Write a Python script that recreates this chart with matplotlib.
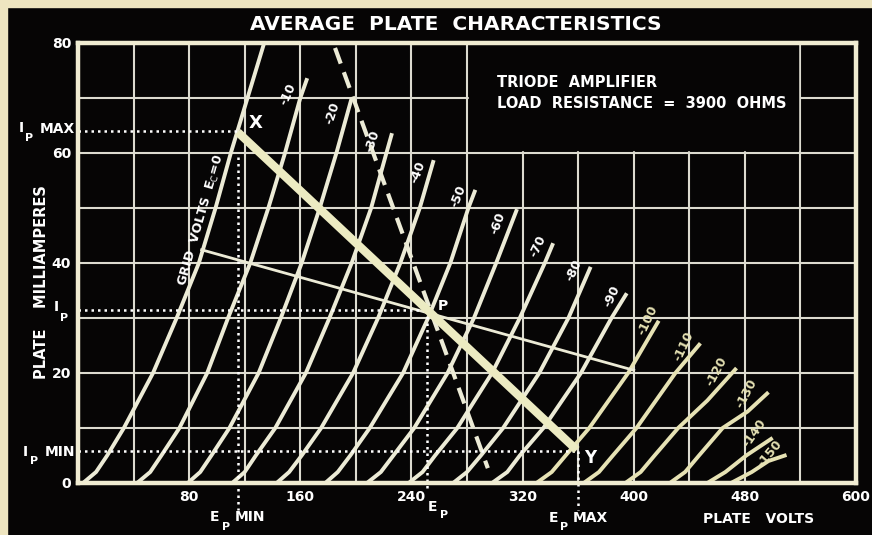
'''
    Curvas caracteristicas de placa de un triodo (lectura del grafico original)
'''
import matplotlib
matplotlib.use('Agg')
from matplotlib import pyplot as plt
from matplotlib.patches import Rectangle

# voltios de rejilla de cada curva
grid_volts = [0, -10, -20, -30, -40, -50, -60, -70, -80, -90, -100, -110, -120, -130, -140, -150]

# voltios de placa de cada curva
curve_volts = [
    [3.6, 13, 21, 33, 54, 71, 87, 99, 110, 122, 134],
    [42.5, 52, 60, 73, 93, 108, 124, 137, 149, 160, 165],
    [79, 88, 96, 109, 130, 146, 161, 174, 186, 197],
    [111, 120, 128, 142, 164, 181, 197, 211, 222, 226],
    [143, 152, 161, 175, 198, 216, 232, 246, 256],
    [178, 187, 196, 210, 234, 252, 268, 281, 286],
    [208, 218, 227, 242, 266, 285, 301, 316],
    [238, 248, 257, 273, 298, 318, 336, 342],
    [270, 280, 290, 306, 332, 353, 369],
    [298, 309, 318, 335, 362, 384, 395],
    [330, 341, 351, 368, 396, 418],
    [364, 375, 385, 402, 430, 448],
    [394, 405, 415, 432, 453, 474],
    [426, 437, 447, 464, 482, 497],
    [453, 466, 481, 500],
    [470, 485, 497, 510],
]
# miliamperios de placa de cada curva
curve_ma = [
    [0, 2, 5, 10, 20, 30, 40, 50, 60, 70, 80],
    [0, 2, 5, 10, 20, 30, 40, 50, 60, 70, 73.6],
    [0, 2, 5, 10, 20, 30, 40, 50, 60, 70],
    [0, 2, 5, 10, 20, 30, 40, 50, 60, 63.6],
    [0, 2, 5, 10, 20, 30, 40, 50, 58.7],
    [0, 2, 5, 10, 20, 30, 40, 50, 53.3],
    [0, 2, 5, 10, 20, 30, 40, 49.8],
    [0, 2, 5, 10, 20, 30, 40, 43.6],
    [0, 2, 5, 10, 20, 30, 39.3],
    [0, 2, 5, 10, 20, 30, 34.5],
    [0, 2, 5, 10, 20, 29.5],
    [0, 2, 5, 10, 20, 25.4],
    [0, 2, 5, 10, 15, 20.9],
    [0, 2, 5, 10, 13, 16.5],
    [0, 2, 5, 8.2],
    [0, 2, 4, 5.1],
]

# etiquetas de las curvas (sin la de 0)
label_text = ['-10', '-20', '-30', '-40', '-50', '-60', '-70', '-80', '-90',
              '-100', '-110', '-120', '-130', '-140', '-150']
label_v = [151, 183, 212, 245, 274, 302, 331, 357, 384, 410, 436, 460, 481, 487, 498]
label_ma = [70.7, 67.2, 62.1, 56.6, 52.1, 47.2, 43.1, 38.7, 33.9, 29.6, 24.8, 20.2, 16.3, 9.0, 5.4]
label_rot = [65, 72, 72, 70, 68, 70, 65, 65, 65, 65, 65, 62, 62, 55, 50]

# recta de carga X-Y y otras rectas
load_v = [115, 359]
load_ma = [63.8, 6.0]
thin_v = [89, 400]
thin_ma = [42.4, 20.5]
dash_v = [185, 295]
dash_ma = [79.1, 2.7]

# punto de trabajo
ep_min, ep, ep_max = 115, 251, 360
ip_max, ip, ip_min = 64.0, 31.5, 5.8

x_ticks = [80, 160, 240, 320, 400, 480, 560]
x_tick_labels = ['80', '160', '240', '320', '400', '480', '600']
y_ticks = [0, 20, 40, 60, 80]
y_tick_labels = ['0', '20', '40', '60', '80']

W, H = 872, 535
bg = '#060505'
linea = '#ecebd6'
amarillo = '#e6e2b4'
fuente = 'DejaVu Sans'


def fx(x, y):
    return x / W, 1 - y / H


fig = plt.figure(figsize=(W / 100, H / 100), dpi=100, facecolor=bg)
fig.patches.append(Rectangle((0, 1 - 7 / H), 1, 7 / H, transform=fig.transFigure, color='#eee5c0', zorder=0))
fig.patches.append(Rectangle((0, 0), 7 / W, 1, transform=fig.transFigure, color='#eee5c0', zorder=0))

ax = fig.add_axes([78 / W, 1 - 483 / H, 778 / W, 440 / H])
ax.set_facecolor(bg)
ax.set_xlim(0, 560)
ax.set_ylim(0, 80)

# cuadricula
for v in range(40, 560, 40):
    ax.axvline(v, color='#dcdbd0', lw=1.5, zorder=1)
for i in range(10, 80, 10):
    ax.axhline(i, color='#dcdbd0', lw=1.5, zorder=1)
ax.add_patch(Rectangle((281.5, 60.5), 237, 19.5, color=bg, zorder=1.5))

for s in ax.spines.values():
    s.set_color('#f0ecd2')
    s.set_linewidth(3.2)
    s.set_zorder(8)

ax.set_xticks(x_ticks)
ax.set_xticklabels(x_tick_labels)
ax.set_yticks(y_ticks)
ax.set_yticklabels(y_tick_labels)
ax.tick_params(length=0, colors='white', labelsize=10, pad=5)
for t in ax.get_xticklabels() + ax.get_yticklabels():
    t.set_fontweight('bold')
    t.set_family(fuente)

# curvas de placa
for k in range(len(grid_volts)):
    col = linea if grid_volts[k] > -100 else amarillo
    ax.plot(curve_volts[k], curve_ma[k], color=col, lw=2.8, solid_capstyle='butt', zorder=3)

for k in range(len(label_text)):
    col = 'white' if k < 9 else amarillo
    ax.text(label_v[k], label_ma[k], label_text[k], rotation=label_rot[k], ha='center', va='center',
            color=col, fontsize=9, fontweight='bold', zorder=6)

ax.text(88.6, 47.8, r'GRID  VOLTS  E$_\mathsf{C}$=0', rotation=74, ha='center', va='center',
        color='white', fontsize=9.2, fontweight='bold', zorder=6)

# rectas
ax.plot(thin_v, thin_ma, color=linea, lw=2.0, zorder=4)
ax.plot(dash_v, dash_ma, color=linea, lw=3.0, linestyle=(0, (4, 2.2)), zorder=4)
ax.plot(load_v, load_ma, color='#ecebc2', lw=6.0, solid_capstyle='butt', zorder=5)

# lineas punteadas
pts = dict(color='white', lw=1.8, linestyle=(0, (1, 1.6)), zorder=4, clip_on=False)
ax.plot([0, ep_min], [ip_max, ip_max], **pts)
ax.plot([ep_min, ep_min], [59.3, -4.9], **pts)
ax.plot([0, ep], [ip, ip], **pts)
ax.plot([ep, ep], [ip, -1.5], **pts)
ax.plot([0, ep_max], [ip_min, ip_min], **pts)
ax.plot([ep_max, ep_max], [ip_min, -4.9], **pts)

txt = dict(color='white', fontweight='bold', family=fuente)
fig.text(*fx(456, 25), 'AVERAGE  PLATE  CHARACTERISTICS', ha='center', va='center', fontsize=14.5, **txt)
fig.text(*fx(497, 82), 'TRIODE  AMPLIFIER', ha='left', va='center', fontsize=10.5, **txt)
fig.text(*fx(497, 103), 'LOAD  RESISTANCE  =  3900  OHMS', ha='left', va='center', fontsize=10.5, **txt)
fig.text(*fx(42, 282), 'PLATE    MILLIAMPERES', rotation=90, ha='center', va='center', fontsize=10.5, **txt)

fig.text(*fx(21, 128), 'I', ha='center', va='center', fontsize=10, **txt)
fig.text(*fx(29, 138), 'P', ha='center', va='center', fontsize=8, **txt)
fig.text(*fx(40, 129), 'MAX', ha='left', va='center', fontsize=10, **txt)
fig.text(*fx(56, 307), 'I', ha='center', va='center', fontsize=10, **txt)
fig.text(*fx(64, 318), 'P', ha='center', va='center', fontsize=8, **txt)
fig.text(*fx(25, 452), 'I', ha='center', va='center', fontsize=10, **txt)
fig.text(*fx(34, 461), 'P', ha='center', va='center', fontsize=8, **txt)
fig.text(*fx(45, 452), 'MIN', ha='left', va='center', fontsize=10, **txt)

fig.text(*fx(214, 517), 'E', ha='center', va='center', fontsize=10, **txt)
fig.text(*fx(226, 527), 'P', ha='center', va='center', fontsize=8, **txt)
fig.text(*fx(235, 517), 'MIN', ha='left', va='center', fontsize=10, **txt)
fig.text(*fx(432, 507), 'E', ha='center', va='center', fontsize=10, **txt)
fig.text(*fx(444, 515), 'P', ha='center', va='center', fontsize=8, **txt)
fig.text(*fx(553, 518), 'E', ha='center', va='center', fontsize=10, **txt)
fig.text(*fx(564, 527), 'P', ha='center', va='center', fontsize=8, **txt)
fig.text(*fx(573, 518), 'MAX', ha='left', va='center', fontsize=10, **txt)
fig.text(*fx(759, 519), 'PLATE   VOLTS', ha='center', va='center', fontsize=10, **txt)

fig.text(*fx(256, 123), 'X', ha='center', va='center', fontsize=13, **txt)
fig.text(*fx(590, 458), 'Y', ha='center', va='center', fontsize=12, **txt)
fig.text(*fx(443, 306), 'P', ha='center', va='center', fontsize=10, **txt)

fig.savefig('out.png', dpi=100, facecolor=bg)
